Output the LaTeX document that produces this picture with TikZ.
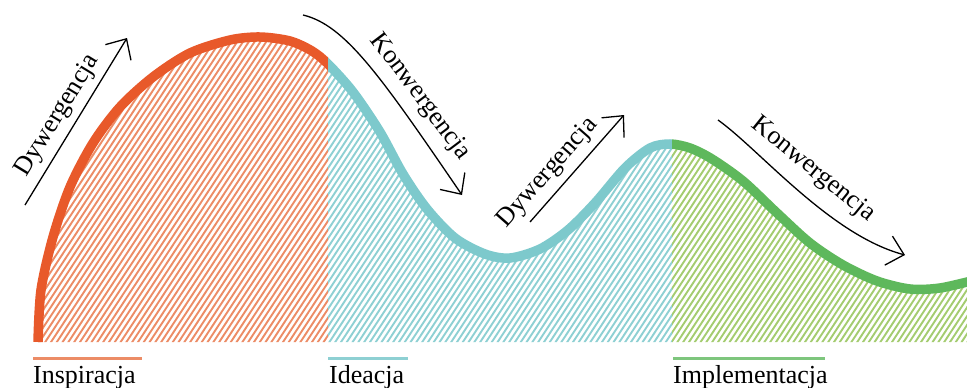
\documentclass[tikz,border=0pt]{standalone}
\usepackage{fontspec}
\setmainfont{Liberation Serif}
\usetikzlibrary{arrows.meta}
\definecolor{cOr}{HTML}{E8592A}
\definecolor{cTe}{HTML}{7DC9CC}
\definecolor{cGr}{HTML}{5EB85C}
\definecolor{hOr}{HTML}{EC8C66}
\definecolor{hTe}{HTML}{8ED0D3}
\definecolor{hGr}{HTML}{A4CC70}
\tikzset{
  curveline/.style={line width=9.5pt},
  hatchline/.style={line width=1.9pt},
  arr/.style={line width=1.3pt, -{Straight Barb[length=16pt,width=30pt,line width=1.3pt]}},
  lbl/.style={inner sep=0pt, font=\fontsize{26}{30}\selectfont},
  under/.style={line width=3pt}
}
\begin{document}
\begin{tikzpicture}[x=1pt,y=-1pt]
\useasboundingbox (0,0) rectangle (967,388);
\def\curve{plot[smooth,tension=0.5] coordinates {(38,342) (41,290) (53,237) (70,187) (93,143) (120,107) (153,77) (190,53) (230,40) (260,37) (290,41) (312,51) (328,64) (353,92) (380,132) (403,174) (427,209) (455,238) (485,254) (510,258) (540,249) (568,230) (595,203) (625,168) (650,148) (670,144) (690,148) (712,159) (743,181) (777,213) (810,243) (843,265) (877,281) (910,289) (940,288) (975,280)}}
% hatched areas
\begin{scope}
  \clip \curve -- (975,342) -- cycle;
  \begin{scope}
    \clip (0,0) rectangle (328,342);
    \foreach \i in {0,...,100} {\draw[hatchline,hOr] ({-230+\i*5.8},346) -- ++(224,-340);}
  \end{scope}
  \begin{scope}
    \clip (328,0) rectangle (672,342);
    \foreach \i in {50,...,170} {\draw[hatchline,hTe] ({-230+\i*5.8},346) -- ++(224,-340);}
  \end{scope}
  \begin{scope}
    \clip (672,0) rectangle (967,342);
    \foreach \i in {105,...,210} {\draw[hatchline,hGr] ({-230+\i*5.8},346) -- ++(224,-340);}
  \end{scope}
\end{scope}
% thick curve
\begin{scope}\clip (0,0) rectangle (328,342); \draw[curveline,cOr] \curve; \end{scope}
\begin{scope}\clip (328,0) rectangle (672,342); \draw[curveline,cTe] \curve; \end{scope}
\begin{scope}\clip (672,0) rectangle (967,342); \draw[curveline,cGr] \curve; \end{scope}
% arrows
\coordinate (d1s) at (25,205); \coordinate (d1e) at (127,38);
\draw[arr] (d1s) -- (d1e);
\node[lbl, rotate=58.6] (d1) at (58,116) {Dywergencja};
\coordinate (k1s) at (303,15); \coordinate (k1e) at (462,195);
\draw[arr] (k1s) .. controls (345,25) and (380,75) .. (k1e);
\node[lbl, rotate=-53] (k1) at (420,97) {Konwergencja};
\coordinate (d2s) at (530,222); \coordinate (d2e) at (624,115);
\draw[arr] (d2s) -- (d2e);
\node[lbl, rotate=48.7] (d2) at (548,173) {Dywergencja};
\coordinate (k2s) at (718,120); \coordinate (k2e) at (905,255);
\draw[arr] (k2s) .. controls (760,150) and (830,235) .. (k2e);
\node[lbl, rotate=-39] (k2) at (813,170) {Konwergencja};
% bottom labels
\coordinate (u1a) at (33,358); \coordinate (u1b) at (142,358);
\draw[under,hOr] (u1a) -- (u1b);
\node[lbl, anchor=base west] (l1) at (33,383) {Inspiracja};
\coordinate (u2a) at (328,358); \coordinate (u2b) at (408,358);
\draw[under,hTe] (u2a) -- (u2b);
\node[lbl, anchor=base west] (l2) at (329,383) {Ideacja};
\coordinate (u3a) at (673,358); \coordinate (u3b) at (825,358);
\draw[under,cGr!80!white] (u3a) -- (u3b);
\node[lbl, anchor=base west] (l3) at (673,383) {Implementacja};
\end{tikzpicture}
\end{document}
